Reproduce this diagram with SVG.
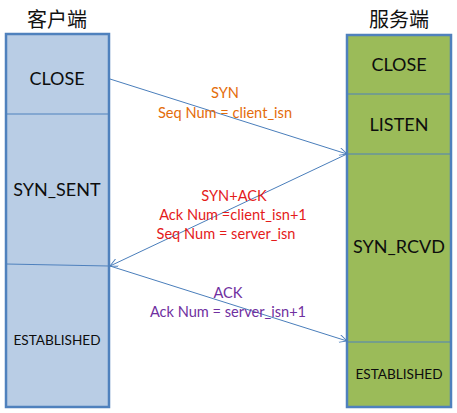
<svg xmlns="http://www.w3.org/2000/svg" width="457" height="413" viewBox="0 0 457 413">
<defs>
<marker id="arr" viewBox="0 0 10 10" refX="10" refY="5" markerWidth="8" markerHeight="8" markerUnits="userSpaceOnUse" orient="auto">
<path d="M0,0 L10,5 L0,10" fill="none" stroke="#4a7ebb" stroke-width="1.2"/>
</marker>
<style>
.box{stroke:#4f81bd;stroke-width:2.5}
.cli{fill:#b9cde5}
.srv{fill:#9bbb59}
.div{stroke:#4f81bd;stroke-width:1.2;fill:none}
.st{font-family:Lato,"Liberation Sans",sans-serif;font-size:18px;fill:#0d0d0d;text-anchor:middle}
.sm{font-family:Lato,"Liberation Sans",sans-serif;font-size:13.6px;fill:#0d0d0d;text-anchor:middle}
.hd{font-family:"Noto Sans CJK SC",sans-serif;font-size:20px;fill:#111;text-anchor:middle}
.lb{font-family:Lato,"Liberation Sans",sans-serif;font-size:14.6px;text-anchor:middle}
.conn{stroke:#4a7ebb;stroke-width:1;fill:none}
</style>
</defs>
<g id="client">
<text class="hd" x="57" y="27">客户端</text>
<rect class="box cli" x="6" y="34" width="103" height="373"/>
<line class="div" x1="6" y1="114" x2="109" y2="114"/>
<line class="div" x1="6" y1="264" x2="109" y2="266"/>
<text class="st" x="57" y="85">CLOSE</text>
<text class="st" x="57" y="196">SYN_SENT</text>
<text class="sm" x="57" y="345">ESTABLISHED</text>
</g>
<g id="server">
<text class="hd" x="399" y="27">服务端</text>
<rect class="box srv" x="347" y="35" width="104" height="372"/>
<line class="div" x1="347" y1="94" x2="451" y2="94"/>
<line class="div" x1="347" y1="154" x2="451" y2="154"/>
<line class="div" x1="347" y1="342" x2="451" y2="342"/>
<text class="st" x="399" y="71">CLOSE</text>
<text class="st" x="399" y="131">LISTEN</text>
<text class="st" x="399" y="253">SYN_RCVD</text>
<text class="sm" x="399" y="379">ESTABLISHED</text>
</g>
<g id="connectors">
<line class="conn" x1="110" y1="79" x2="347" y2="154" marker-end="url(#arr)"/>
<line class="conn" x1="347" y1="154" x2="110" y2="266" marker-end="url(#arr)"/>
<line class="conn" x1="110" y1="266" x2="347" y2="341" marker-end="url(#arr)"/>
</g>
<g id="labels">
<text class="lb" fill="#e46c0a" x="225" y="98">SYN</text>
<text class="lb" fill="#e46c0a" x="225" y="118">Seq Num = client_isn</text>
<text class="lb" fill="#e41b1b" x="234" y="201">SYN+ACK</text>
<text class="lb" fill="#e41b1b" x="233" y="220">Ack Num =client_isn+1</text>
<text class="lb" fill="#e41b1b" x="226" y="239">Seq Num = server_isn</text>
<text class="lb" fill="#7030a0" x="228" y="298">ACK</text>
<text class="lb" fill="#7030a0" x="228" y="317">Ack Num = server_isn+1</text>
</g>
</svg>
